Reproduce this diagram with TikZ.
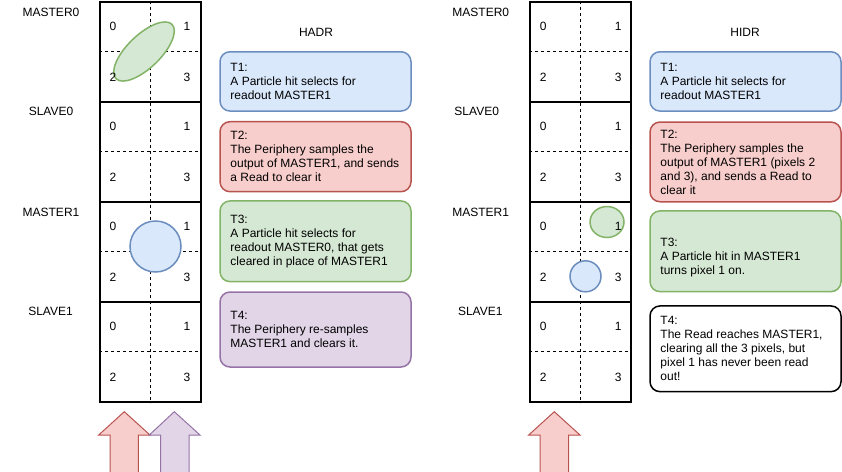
\documentclass[tikz,border=0pt]{standalone}
\usepackage{fontspec}
\setmainfont{Liberation Sans}
\definecolor{bluefill}{HTML}{DAE8FC}
\definecolor{bluedraw}{HTML}{6C8EBF}
\definecolor{redfill}{HTML}{F8CECC}
\definecolor{reddraw}{HTML}{B85450}
\definecolor{greenfill}{HTML}{D5E8D4}
\definecolor{greendraw}{HTML}{82B366}
\definecolor{purplefill}{HTML}{E1D5E7}
\definecolor{purpledraw}{HTML}{9673A6}
\begin{document}
\begin{tikzpicture}[x=1pt,y=-1pt,
  lbl/.style={font=\fontsize{12}{14}\selectfont, inner sep=0pt},
  blk/.style={draw=black, fill=white, line width=2pt, minimum width=101pt, minimum height=100pt, inner sep=0pt},
  dsh/.style={line width=0.9pt, dash pattern=on 3pt off 3pt},
  tbox/.style={rounded corners=10pt, line width=1.5pt, minimum width=191pt, inner sep=0pt},
  ttext/.style={font=\fontsize{12}{14}\selectfont, align=left, anchor=west, inner sep=0pt},
  bluebox/.style={tbox, draw=bluedraw, fill=bluefill},
  redbox/.style={tbox, draw=reddraw, fill=redfill},
  greenbox/.style={tbox, draw=greendraw, fill=greenfill},
  purplebox/.style={tbox, draw=purpledraw, fill=purplefill},
  whitebox/.style={tbox, draw=black, fill=white},
  greenshape/.style={draw=greendraw, fill=greenfill, line width=1.5pt},
  blueshape/.style={draw=bluedraw, fill=bluefill, line width=1.5pt},
  redarrow/.style={draw=reddraw, fill=redfill, line width=1pt},
  purplearrow/.style={draw=purpledraw, fill=purplefill, line width=1pt}
]
\useasboundingbox (0,0) rectangle (842,471);

% columns of blocks
\foreach \c/\cx in {L/150.5, R/580.3}{
  \foreach \k/\t in {0/1.5, 1/101.5, 2/201.5, 3/301.5}{
    \node[blk] (\c\k) at (\cx,{\t+50}) {};
  }
  \foreach \k in {0,1,2,3}{
    \draw[dsh] (\c\k.west) -- (\c\k.east);
  }
  \draw[dsh] (\c0.north) -- (\c3.south);
}

% block labels
\node[lbl] (lm0) at (51,12.5) {MASTER0};
\node[lbl] (ls0) at (51,111) {SLAVE0};
\node[lbl] (lm1) at (51,212) {MASTER1};
\node[lbl] (ls1) at (50.5,311) {SLAVE1};
\node[lbl] (rm0) at (480.8,12.5) {MASTER0};
\node[lbl] (rs0) at (476.7,111) {SLAVE0};
\node[lbl] (rm1) at (480.7,212) {MASTER1};
\node[lbl] (rs1) at (480.3,311) {SLAVE1};

% hits
\draw[greenshape, rotate around={44:(144,51.5)}] (144,51.5) ellipse [x radius=39pt, y radius=16.5pt];
\draw[blueshape] (155.5,246.5) circle [radius=25.5pt];
\draw[greenshape] (607,222) ellipse [x radius=17pt, y radius=15.5pt];
\draw[blueshape] (585.5,276.3) circle [radius=15.5pt];

% pixel numbers
\foreach \c/\xl/\xr in {L/113/187, R/543.3/618.3}{
  \foreach \k/\t in {0/1.5, 1/101.5, 2/201.5, 3/301.5}{
    \node[lbl] (\c\k p0) at (\xl,{\t+25}) {0};
    \node[lbl] (\c\k p1) at (\xr,{\t+25}) {1};
    \node[lbl] (\c\k p2) at (\xl,{\t+76}) {2};
    \node[lbl] (\c\k p3) at (\xr,{\t+76}) {3};
  }
}

% arrows
\draw[redarrow] (110,474) -- (110,435) -- (98.7,435) -- (124.3,411.7) -- (150,435) -- (138.3,435) -- (138.3,474) -- cycle;
\draw[purplearrow] (160.7,474) -- (160.7,435) -- (149.3,435) -- (174.3,411.7) -- (200,435) -- (189,435) -- (189,474) -- cycle;
\draw[redarrow] (540,474) -- (540,435) -- (528.7,435) -- (554.3,411.7) -- (580,435) -- (568.7,435) -- (568.7,474) -- cycle;

% titles
\node[lbl] (hadr) at (316,32) {HADR};
\node[lbl] (hidr) at (745,32) {HIDR};

% HADR boxes
\node[bluebox, minimum height=59.3pt] (h1) at (315.5,81.4) {};
\node[redbox, minimum height=70pt] (h2) at (315.5,156.7) {};
\node[greenbox, minimum height=80.7pt] (h3) at (315.5,241.3) {};
\node[purplebox, minimum height=75pt] (h4) at (315.5,329.5) {};
\node[ttext] (h1t) at ([xshift=11pt]h1.west) {T1:\\A Particle hit selects for\\readout MASTER1};
\node[ttext] (h2t) at ([xshift=11pt]h2.west) {T2:\\The Periphery samples the\\output of MASTER1, and sends\\a Read to clear it};
\node[ttext] (h3t) at ([xshift=11pt]h3.west) {T3:\\A Particle hit selects for\\readout MASTER0, that gets\\cleared in place of MASTER1};
\node[ttext] (h4t) at ([xshift=11pt]h4.west) {T4:\\The Periphery re-samples\\MASTER1 and clears it.};

% HIDR boxes
\node[bluebox, minimum height=59.3pt] (i1) at (745.5,81.4) {};
\node[redbox, minimum height=79.7pt] (i2) at (745.5,161.9) {};
\node[greenbox, minimum height=80.7pt] (i3) at (745.5,251.3) {};
\node[whitebox, minimum height=85.7pt] (i4) at (745.5,348.8) {};
\node[ttext] (i1t) at ([xshift=11pt]i1.west) {T1:\\A Particle hit selects for\\readout MASTER1};
\node[ttext] (i2t) at ([xshift=11pt]i2.west) {T2:\\The Periphery samples the\\output of MASTER1 (pixels 2\\and 3), and sends a Read to\\clear it};
\node[ttext] (i3t) at ([xshift=11pt,yshift=-6pt]i3.west) {T3:\\A Particle hit in MASTER1\\turns pixel 1 on.};
\node[ttext] (i4t) at ([xshift=11pt]i4.west) {T4:\\The Read reaches MASTER1,\\clearing all the 3 pixels, but\\pixel 1 has never been read\\out!};
\end{tikzpicture}
\end{document}
